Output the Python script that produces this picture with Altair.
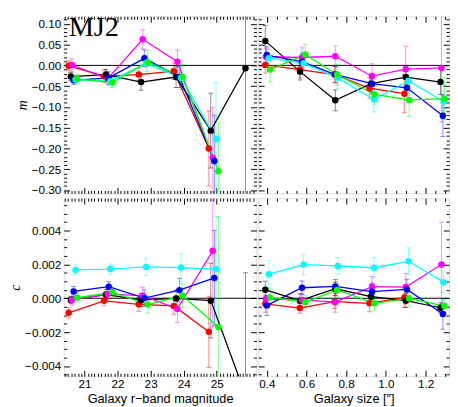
import altair as alt
import pandas as pd

SERIES = ["red", "black", "magenta", "blue", "cyan", "green"]
COLORS = ["#ff0000", "#000000", "#ff00ff", "#0000ff", "#00ffff", "#00ff00"]
PANEL_LABEL = "MJ2"

# ---- x positions (magnitude panels) ----
mag_x = {
    "red":     [20.52, 21.59, 22.64, 23.70, 24.76],
    "black":   [20.585, 21.65, 22.71, 23.77, 24.82, 25.87],
    "magenta": [20.62, 21.70, 22.76, 23.81, 24.88],
    "blue":    [20.67, 21.73, 22.81, 23.87, 24.93],
    "cyan":    [20.73, 21.78, 22.86, 23.92, 24.98],
    "green":   [20.78, 21.85, 22.91, 23.97, 25.05],
}
# ---- x positions (size panels) ----
size_x = {
    "red":     [0.392, 0.566, 0.741, 0.917, 1.093],
    "black":   [0.392, 0.567, 0.745, 0.925, 1.100, 1.275],
    "magenta": [0.395, 0.577, 0.745, 0.930, 1.100, 1.280],
    "blue":    [0.400, 0.577, 0.745, 0.930, 1.106, 1.287],
    "cyan":    [0.410, 0.585, 0.757, 0.940, 1.114, 1.290],
    "green":   [0.416, 0.594, 0.754, 0.942, 1.117, 1.295],
}

# ---- m vs magnitude ----
m_mag = {
    "black":   [-0.027, -0.022, -0.040, -0.028, -0.157, -0.007],
    "red":     [-0.001, -0.026, -0.022, -0.014, -0.200],
    "green":   [-0.033, -0.041, 0.008, -0.028, -0.255],
    "blue":    [-0.036, -0.030, 0.017, -0.028, -0.230],
    "cyan":    [-0.034, -0.038, 0.005, -0.030, -0.177],
    "magenta": [0.001, -0.032, 0.063, 0.009, -0.222],
}
m_mag_err = {
    "black":   [0.010, 0.012, 0.020, 0.025, 0.090, 0.500],
    "red":     [0.012, 0.015, 0.015, 0.020, 0.090],
    "green":   [0.012, 0.012, 0.028, 0.030, 0.130],
    "blue":    [0.010, 0.015, 0.020, 0.025, 0.110],
    "cyan":    [0.010, 0.012, 0.020, 0.028, 0.135],
    "magenta": [0.015, 0.015, 0.023, 0.028, 0.120],
}

# ---- m vs size ----
m_size = {
    "black":   [0.059, -0.015, -0.084, -0.044, -0.028, -0.040],
    "red":     [0.001, -0.010, -0.022, -0.055, -0.068],
    "green":   [-0.010, 0.026, -0.022, -0.070, -0.083, -0.080],
    "blue":    [0.025, 0.009, -0.022, -0.044, -0.054, -0.121],
    "cyan":    [0.018, 0.005, -0.030, -0.082, -0.037, -0.087],
    "magenta": [0.021, 0.019, 0.022, -0.026, -0.009, -0.006],
}
m_size_err = {
    "black":   [0.037, 0.020, 0.025, 0.020, 0.025, 0.030],
    "red":     [0.020, 0.020, 0.020, 0.025, 0.046],
    "green":   [0.030, 0.025, 0.025, 0.025, 0.040, 0.050],
    "blue":    [0.020, 0.020, 0.020, 0.025, 0.030, 0.050],
    "cyan":    [0.020, 0.020, 0.025, 0.030, 0.030, 0.040],
    "magenta": [0.020, 0.025, 0.025, 0.030, 0.055, 0.130],
}

# ---- c vs magnitude ----
c_mag = {
    "black":   [-0.00010, 0.00022, -0.00010, -0.00001, -0.00014, -0.0057],
    "red":     [-0.00086, -0.00015, -0.00036, -0.00045, -0.00198],
    "green":   [0.00003, 0.00035, -0.00037, 0.00015, -0.00170],
    "blue":    [0.00040, 0.00068, 0.00001, 0.00048, 0.00120],
    "cyan":    [0.00167, 0.00172, 0.00185, 0.00181, 0.00172],
    "magenta": [-0.00010, 0.00025, 0.00015, -0.00063, 0.00280],
}
c_mag_err = {
    "black":   [0.0002, 0.0003, 0.0004, 0.0005, 0.0022, 0.0072],
    "red":     [0.0003, 0.0003, 0.0004, 0.0005, 0.0021],
    "green":   [0.0003, 0.0003, 0.0005, 0.0007, 0.0065],
    "blue":    [0.0003, 0.0003, 0.0005, 0.0007, 0.0028],
    "cyan":    [0.0003, 0.0003, 0.0005, 0.0008, 0.0031],
    "magenta": [0.0003, 0.0003, 0.0005, 0.0008, 0.0045],
}

# ---- c vs size ----
c_size = {
    "black":   [0.00050, -0.00014, 0.00056, 0.00009, -0.00014, -0.00056],
    "red":     [-0.00033, -0.00058, -0.00020, -0.00030, 0.00005],
    "green":   [0.00005, -0.00023, 0.00049, -0.00030, 0.00000, -0.00046],
    "blue":    [-0.00042, 0.00062, 0.00070, 0.00039, 0.00052, -0.00093],
    "cyan":    [0.00142, 0.00199, 0.00191, 0.00180, 0.00218, 0.00095],
    "magenta": [-0.00005, -0.00010, -0.00023, 0.00068, 0.00066, 0.00199],
}
c_size_err = {
    "black":   [0.0005, 0.0004, 0.0004, 0.0004, 0.0004, 0.0003],
    "red":     [0.0005, 0.0003, 0.0004, 0.0005, 0.0006],
    "green":   [0.0005, 0.0004, 0.0004, 0.0004, 0.0005, 0.0005],
    "blue":    [0.0006, 0.0004, 0.0004, 0.0005, 0.0006, 0.0009],
    "cyan":    [0.0008, 0.0006, 0.0005, 0.0006, 0.0008, 0.0006],
    "magenta": [0.0005, 0.0004, 0.0006, 0.0006, 0.0008, 0.0025],
}

# ---- axis ticks ----
mag_major = [21, 22, 23, 24, 25]
size_major = [0.4, 0.6, 0.8, 1.0, 1.2]
m_major = [-0.30, -0.25, -0.20, -0.15, -0.10, -0.05, 0.00, 0.05, 0.10]
c_major = [-0.004, -0.002, 0.000, 0.002, 0.004]


def minor(lo, hi, step, major_step):
    out = []
    n = int(round((hi - lo) / step))
    for i in range(n + 1):
        v = round(lo + i * step, 6)
        r = v / major_step
        if abs(r - round(r)) > 1e-6:
            out.append(v)
    return out


mag_minor = minor(20.4, 26.1, 0.1, 1.0) + [26.0]
size_minor = minor(0.35, 1.30, 0.05, 0.2)
m_minor = minor(-0.30, 0.11, 0.01, 0.05)
c_minor = minor(-0.0045, 0.0055, 0.0005, 0.002)

LABEL_FONT = "Liberation Sans"


def make_df(xs, ys, es):
    rows = []
    for s in SERIES:
        for x, y, e in zip(xs[s], ys[s], es[s]):
            rows.append({"series": s, "x": x, "y": y, "lo": y - e, "hi": y + e})
    return pd.DataFrame(rows)


def axis(orient, values, size, labels=False, fmt=None, **extra):
    kw = dict(orient=orient, values=values, tickSize=size, offset=-size,
              domain=False, grid=False, labels=labels, ticks=True,
              tickColor="black", tickWidth=1)
    if labels:
        kw.update(format=fmt, labelFont=LABEL_FONT, labelFontSize=12,
                  labelColor="black", labelPadding=3, labelOverlap=False)
    kw.update(extra)
    return alt.Axis(**kw)


def panel(df, xdom, ydom, xmaj, xmin, ymaj, ymin, w, h,
          xlab, ylab, xfmt, yfmt, xtitle=None, ytitle=None, label=None):
    xsc = alt.Scale(domain=xdom, nice=False, zero=False)
    ysc = alt.Scale(domain=ydom, nice=False, zero=False)
    col = alt.Color("series:N", scale=alt.Scale(domain=SERIES, range=COLORS), legend=None)
    base = alt.Chart(df)

    xextra = {}
    if xtitle:
        xextra = dict(titleFont=LABEL_FONT, titleFontSize=13, titleFontWeight="normal",
                      titleColor="black", titlePadding=3)
    yextra = {}
    if ytitle:
        yextra = dict(titleFont="Liberation Serif", titleFontSize=14, titleFontStyle="italic",
                      titleFontWeight="normal", titleColor="black", titlePadding=2)
    xa = axis("bottom", xmaj, 6, xlab, xfmt, **xextra)
    ya = axis("left", ymaj, 6, ylab, yfmt, **yextra)

    err = base.mark_rule(clip=True, opacity=0.45, strokeWidth=1).encode(
        x=alt.X("x:Q", scale=xsc, axis=xa, title=xtitle),
        y=alt.Y("lo:Q", scale=ysc, axis=ya, title=ytitle),
        y2="hi:Q", color=col)
    cap_lo = base.mark_tick(orient="horizontal", size=5, thickness=1, clip=True, opacity=0.45).encode(
        x=alt.X("x:Q", scale=xsc, axis=None), y=alt.Y("lo:Q", scale=ysc, axis=None), color=col)
    cap_hi = base.mark_tick(orient="horizontal", size=5, thickness=1, clip=True, opacity=0.45).encode(
        x=alt.X("x:Q", scale=xsc, axis=None), y=alt.Y("hi:Q", scale=ysc, axis=None), color=col)
    line = base.mark_line(clip=True, strokeWidth=1.3).encode(
        x=alt.X("x:Q", scale=xsc, axis=axis("top", xmaj, 6), title=None),
        y=alt.Y("y:Q", scale=ysc, axis=axis("right", ymaj, 6), title=None),
        color=col)
    pts = base.mark_circle(size=44, opacity=1, clip=True).encode(
        x=alt.X("x:Q", scale=xsc, axis=axis("bottom", xmin, 3), title=None),
        y=alt.Y("y:Q", scale=ysc, axis=axis("left", ymin, 3), title=None),
        color=col)
    zero_df = pd.DataFrame({"x": [xdom[0]], "x2": [xdom[1]], "y": [0.0]})
    zero = alt.Chart(zero_df).mark_rule(color="black", strokeWidth=1).encode(
        x=alt.X("x:Q", scale=xsc, axis=axis("top", xmin, 3), title=None),
        x2="x2:Q",
        y=alt.Y("y:Q", scale=ysc, axis=axis("right", ymin, 3), title=None))
    layers = [zero, err, cap_lo, cap_hi, line, pts]
    if label:
        txt = alt.Chart(pd.DataFrame({"t": [label]})).mark_text(
            font="Liberation Serif", fontSize=29, align="left", baseline="alphabetic",
            color="black").encode(text="t:N", x=alt.value(5), y=alt.value(20))
        layers.append(txt)
    return alt.layer(*layers).resolve_axis(x="independent", y="independent").properties(
        width=w, height=h)


mag_dom = [20.37, 26.2]
size_dom = [0.357, 1.318]
m_dom = [-0.308, 0.118]
c_dom = [-0.0046, 0.0059]

TL = panel(make_df(mag_x, m_mag, m_mag_err), mag_dom, m_dom, mag_major, mag_minor,
           m_major, m_minor, 197, 181, False, True, "d", ".2f", ytitle="m", label=PANEL_LABEL)
TR = panel(make_df(size_x, m_size, m_size_err), size_dom, m_dom, size_major, size_minor,
           m_major, m_minor, 195, 181, False, False, ".1f", ".2f")
BL = panel(make_df(mag_x, c_mag, c_mag_err), mag_dom, c_dom, mag_major, mag_minor,
           c_major, c_minor, 197, 182, True, True, "d", ".3f",
           xtitle="Galaxy r\u2212band magnitude", ytitle="c")
BR = panel(make_df(size_x, c_size, c_size_err), size_dom, c_dom, size_major, size_minor,
           c_major, c_minor, 195, 182, True, False, ".1f", ".3f",
           xtitle="Galaxy size [\u2033]")

chart = alt.concat(TL, TR, BL, BR, columns=2, spacing=0).properties(
    padding={"left": 0, "top": 0, "right": 0, "bottom": 0}
).configure_view(stroke="black", strokeWidth=1.5).configure(background="white")

chart.save("out.html", embed_options={"renderer": "svg", "actions": False})
